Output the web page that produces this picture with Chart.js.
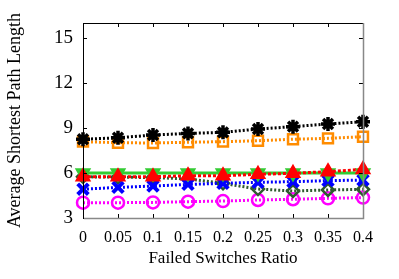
<!DOCTYPE html>
<html><head><meta charset="utf-8">
<script src="https://cdn.jsdelivr.net/npm/chart.js@4/dist/chart.umd.min.js"></script>
<style>html,body{margin:0;padding:0;background:#fff}#c{display:block}</style>
</head><body>
<canvas id="c" width="399" height="279"></canvas>
<script>
const ratios = [0, 0.05, 0.1, 0.15, 0.2, 0.25, 0.3, 0.35, 0.4];
const yTicks = [3, 6, 9, 12, 15];
const blackStar = [8.25, 8.35, 8.53, 8.64, 8.71, 8.93, 9.09, 9.27, 9.42];
const orangeSquare = [8.09, 8.02, 8.0, 8.05, 8.09, 8.15, 8.25, 8.31, 8.42];
const greenTri = [6.0, 6.0, 6.0, 6.0, 6.0, 6.0, 6.0, 6.0, 6.0];
const redTri = [5.75, 5.75, 5.75, 5.82, 5.82, 5.91, 5.98, 6.09, 6.24];
const darkDiamond = [5.75, 5.72, 5.7, 5.6, 5.31, 4.93, 4.8, 4.87, 4.91];
const blueCross = [4.92, 5.04, 5.13, 5.24, 5.31, 5.38, 5.42, 5.49, 5.53];
const magentaCircle = [4.02, 4.02, 4.04, 4.09, 4.13, 4.2, 4.25, 4.31, 4.36];

const pts = arr => arr.map((v, i) => ({x: ratios[i], y: v}));
const FONT = "'Liberation Serif', 'DejaVu Serif', serif";

const frame = {
  id: 'frame',
  afterDraw(chart) {
    const {ctx, chartArea: a, scales} = chart;
    ctx.save();
    ctx.lineWidth = 1;
    ctx.strokeStyle = '#000';
    ctx.beginPath();
    ratios.forEach(r => {
      const x = Math.round(scales.x.getPixelForValue(r)) + 0.5;
      ctx.moveTo(x, a.bottom); ctx.lineTo(x, a.bottom - 4);
      ctx.moveTo(x, a.top); ctx.lineTo(x, a.top + 4);
    });
    yTicks.forEach(t => {
      const y = Math.round(scales.y.getPixelForValue(t)) + 0.5;
      ctx.moveTo(a.left, y); ctx.lineTo(a.left + 4, y);
      ctx.moveTo(a.right, y); ctx.lineTo(a.right - 4, y);
    });
    ctx.stroke();
    ctx.beginPath();
    ctx.moveTo(Math.round(a.left) + 0.5, a.bottom);
    ctx.lineTo(Math.round(a.left) + 0.5, Math.round(a.top) + 0.5);
    ctx.lineTo(Math.round(a.right) + 0.5, Math.round(a.top) + 0.5);
    ctx.stroke();
    ctx.strokeStyle = '#888';
    ctx.lineWidth = 1.5;
    ctx.beginPath();
    ctx.moveTo(Math.round(a.right) + 0.5, a.top);
    ctx.lineTo(Math.round(a.right) + 0.5, Math.round(a.bottom) + 0.5);
    ctx.lineTo(Math.round(a.left) + 1, Math.round(a.bottom) + 0.5);
    ctx.stroke();
    ctx.restore();
  }
};

function ds(data, color, style, opts) {
  return Object.assign({
    data: pts(data), borderColor: color, backgroundColor: color,
    pointStyle: style, pointRadius: 6, pointBorderWidth: 2.5,
    pointBorderColor: color, pointBackgroundColor: 'rgba(0,0,0,0)',
    borderWidth: 3, borderDash: [2, 2], tension: 0, clip: false
  }, opts || {});
}

new Chart(document.getElementById('c'), {
  type: 'line',
  data: {
    datasets: [
      ds(blackStar, '#000000', 'star', {pointRadius: 7, pointBorderWidth: 3.5}),
      ds(orangeSquare, '#ff8c00', 'rect', {pointRadius: 7}),
      ds(redTri, '#ff0000', 'triangle', {pointBackgroundColor: '#ff0000', pointRadius: 7, borderDash: [3, 2]}),
      ds(greenTri, '#33cc33', 'triangle', {borderDash: [], pointRotation: 180, pointBackgroundColor: '#33cc33', pointRadius: 7}),
      ds(blueCross, '#0000ff', 'crossRot', {pointRadius: 7.5, pointBorderWidth: 4}),
      ds(darkDiamond, '#2e5a2e', 'rectRot', {pointRadius: 6}),
      ds(magentaCircle, '#ff00ff', 'circle', {pointRadius: 6})
    ]
  },
  options: {
    responsive: false, animation: false, events: [],
    layout: {padding: {left: 0, right: 36, top: 23, bottom: 0}},
    plugins: {legend: {display: false}, tooltip: {enabled: false}},
    scales: {
      x: {
        type: 'linear', min: 0, max: 0.4,
        afterFit(s) { s.height = 61; },
        afterBuildTicks(s) { s.ticks = ratios.map(v => ({value: v})); },
        grid: {display: false, drawTicks: false},
        border: {display: false},
        ticks: {color: '#000', padding: 10, maxRotation: 0, minRotation: 0, autoSkip: false,
          font: {family: FONT, size: 16}, callback: v => String(v)},
        title: {display: true, text: 'Failed Switches Ratio', color: '#000',
          font: {family: FONT, size: 17}, padding: {top: 10, bottom: 10}}
      },
      y: {
        type: 'linear', min: 3, max: 16,
        afterFit(s) { s.width = 83; },
        afterBuildTicks(s) { s.ticks = yTicks.map(v => ({value: v})); },
        grid: {display: false, drawTicks: false},
        border: {display: false},
        ticks: {color: '#000', padding: 10, font: {family: FONT, size: 19}},
        title: {display: true, text: 'Average Shortest Path Length', color: '#000',
          font: {family: FONT, size: 18}, padding: {top: 4}}
      }
    }
  },
  plugins: [frame]
});
</script>
</body></html>
